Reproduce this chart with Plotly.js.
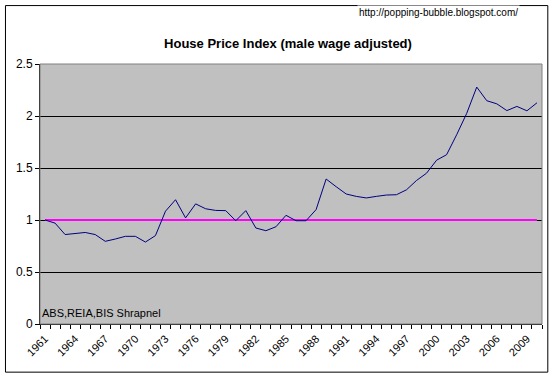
<!DOCTYPE html>
<html>
<head>
<meta charset="utf-8">
<script src="https://cdn.plot.ly/plotly-3.0.1.min.js"></script>
<style>
  html, body { margin: 0; padding: 0; background: #ffffff; }
  #chart { width: 553px; height: 379px; }
</style>
</head>
<body>
<div id="chart"></div>
<script>
// ---- data ----
var years = [1961,1962,1963,1964,1965,1966,1967,1968,1969,1970,
             1971,1972,1973,1974,1975,1976,1977,1978,1979,1980,
             1981,1982,1983,1984,1985,1986,1987,1988,1989,1990,
             1991,1992,1993,1994,1995,1996,1997,1998,1999,2000,
             2001,2002,2003,2004,2005,2006,2007,2008,2009,2010];
var hpi = [1.00,0.97,0.86,0.868,0.88,0.86,0.795,0.817,0.843,0.843,
           0.788,0.85,1.085,1.195,1.02,1.155,1.108,1.092,1.09,0.993,
           1.09,0.923,0.897,0.935,1.045,0.993,0.993,1.10,1.394,1.32,
           1.25,1.227,1.212,1.227,1.24,1.243,1.29,1.38,1.45,1.575,
           1.628,1.82,2.025,2.278,2.147,2.117,2.052,2.092,2.05,2.127];
var baseline = [1,1,1,1,1,1,1,1,1,1,
                1,1,1,1,1,1,1,1,1,1,
                1,1,1,1,1,1,1,1,1,1,
                1,1,1,1,1,1,1,1,1,1,
                1,1,1,1,1,1,1,1,1,1];
var tickYears = [1961,1964,1967,1970,1973,1976,1979,1982,1985,1988,1991,1994,1997,2000,2003,2006,2009];
var tickLabels = ["1961","1964","1967","1970","1973","1976","1979","1982","1985","1988","1991","1994","1997","2000","2003","2006","2009"];
var yTicks = [0,0.5,1,1.5,2,2.5];
var yTickLabels = ["0","0.5","1","1.5","2","2.5"];
var titleText = "House Price Index (male wage adjusted)";
var sourceText = "ABS,REIA,BIS Shrapnel";
var urlText = "http://popping-bubble.blogspot.com/";

var FONT = "Liberation Sans, Arial, sans-serif";

var traces = [
  { x: years, y: baseline, type: 'scatter', mode: 'lines',
    line: { color: '#FF00FF', width: 2 }, hoverinfo: 'skip' },
  { x: years, y: hpi, type: 'scatter', mode: 'lines',
    line: { color: '#000080', width: 1 } }
];

var layout = {
  width: 553, height: 379,
  margin: { l: 40, r: 11.3, t: 64, b: 54.7, pad: 0 },
  paper_bgcolor: '#ffffff',
  plot_bgcolor: '#C0C0C0',
  showlegend: false,
  font: { family: FONT, size: 11, color: '#000000' },
  title: {
    text: titleText,
    font: { family: FONT, size: 13, weight: 700, color: '#000000' },
    x: 0.494, xref: 'paper', xanchor: 'center',
    y: 1 - 43/379, yref: 'container', yanchor: 'middle'
  },
  xaxis: {
    type: 'linear',
    range: [1960.5, 2010.5],
    tickmode: 'array', tickvals: tickYears, ticktext: tickLabels,
    tickangle: -45,
    ticks: '', ticklen: 0,
    tickfont: { family: FONT, size: 11, color: '#000000' },
    showgrid: false, zeroline: false,
    showline: true, linecolor: '#000000', linewidth: 1,
    ticklabelstandoff: 3,
    minor: { tickmode: 'linear', tick0: 1960.5, dtick: 1, ticks: 'outside', ticklen: 4, tickcolor: '#000000', tickwidth: 1, showgrid: false }
  },
  yaxis: {
    range: [0, 2.5],
    tickmode: 'array', tickvals: yTicks, ticktext: yTickLabels,
    ticks: 'outside', ticklen: 4, tickcolor: '#000000', tickwidth: 1,
    tickfont: { family: FONT, size: 12, color: '#000000' },
    showgrid: true, gridcolor: '#000000', gridwidth: 1,
    zeroline: false,
    showline: true, linecolor: '#000000', linewidth: 1
  },
  shapes: [
    // plot-area border (gray, top & right)
    { type: 'rect', xref: 'paper', yref: 'paper', x0: 0, x1: 1, y0: 0, y1: 1,
      line: { color: '#808080', width: 1 }, layer: 'above' },
    // outer chart border
    { type: 'rect', xref: 'paper', yref: 'paper',
      x0: (5.5-40)/501.7, x1: (547.5-40)/501.7,
      y0: (324.3-372.5)/260.3, y1: (324.3-5.5)/260.3,
      line: { color: '#000000', width: 1 }, layer: 'below' }
  ],
  annotations: [
    { text: sourceText, xref: 'paper', yref: 'paper', x: 0.0, y: 0.012,
      xanchor: 'left', yanchor: 'bottom', showarrow: false,
      font: { family: FONT, size: 11, color: '#000000' } },
    { text: urlText, xref: 'paper', yref: 'paper',
      x: (438-40)/501.7, y: (324.3-12)/260.3,
      xanchor: 'center', yanchor: 'middle', showarrow: false,
      bgcolor: '#ffffff', borderpad: 1,
      font: { family: FONT, size: 10, color: '#000000' } }
  ]
};

Plotly.newPlot('chart', traces, layout, { displayModeBar: false, staticPlot: true });
</script>
</body>
</html>
